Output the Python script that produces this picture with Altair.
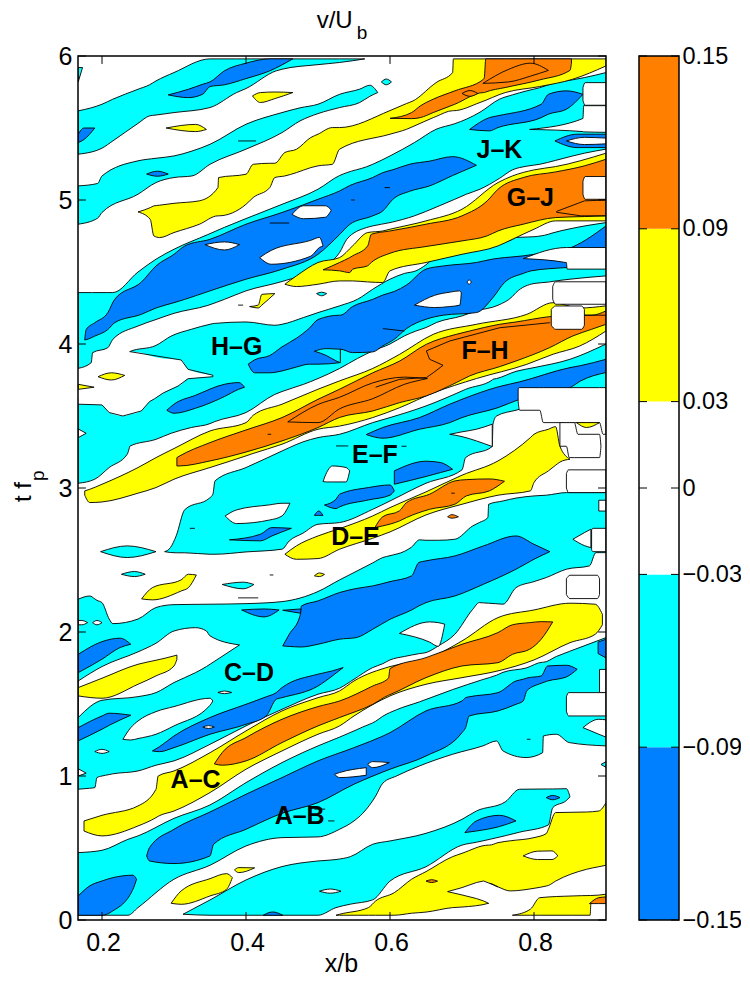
import altair as alt
import pandas as pd

BLUE, CYAN, WHITE, YELLOW, ORANGE = "#0080ff", "#00ffff", "#ffffff", "#ffff00", "#ff8000"

# ---- contour regions: (x/b, lower t fp, upper t fp) ----
cyan_a = ([.167,.2,.236,.25,.3,.35,.4,.45,.5,.53,.55,.562,.58,.59,.609,.641,.687,.729,.748,.757,.789,.812,.813,.831,.849,.9],
          [.033,.033,.033,.086,.283,.38,.514,.572,.577,.63,.688,.74,.86,.95,1.0,1.07,1.151,1.209,1.243,1.174,1.128,1.162,1.278,1.29,1.232,1.209],
          [.468,.484,.56,.584,.706,.799,.954,1.093,1.209,1.27,1.313,1.34,1.38,1.415,1.46,1.515,1.6,1.67,1.7,1.72,1.75,1.79,1.79,1.83,1.865,1.961])
cyan_b = ([.3125,.35,.4,.45,.5,.525,.545,.576,.6,.65,.7,.72,.76,.78,.82,.826,.845,.85],
          [.04,.033,.033,.033,.033,.086,.11,.14,.27,.37,.52,.54,.585,.61,.66,.78,.83,.855],
          [.04,.139,.278,.371,.41,.42,.44,.526,.549,.602,.699,.757,.82,.908,.91,.91,.912,.855])
cyan_c = ([.167,.183,.19,.193,.2,.21,.215,.25,.275,.3,.35,.4,.45,.5,.53,.55,.576,.59,.6,.62,.63,.641,.65,.667,.69,.715,.724,.736,.737,.757,.775,.8,.817,.845,.877,.886,.9],
          [.908,.915,.919,.989,1.0,1.01,1.015,1.035,1.075,1.105,1.22,1.348,1.463,1.568,1.61,1.672,1.753,1.78,1.806,1.83,1.84,1.85,1.857,1.903,1.984,2.158,2.204,2.2,2.2,2.193,2.308,2.35,2.378,2.436,2.459,2.551,2.551],
          [2.228,2.25,2.23,2.22,2.204,2.09,2.058,2.09,2.17,2.19,2.193,2.197,2.211,2.281,2.362,2.413,2.48,2.517,2.53,2.56,2.59,2.64,2.637,2.637,2.644,2.737,2.76,2.795,2.887,2.91,2.93,2.945,2.95,2.968,2.968,2.968,2.968])
cyan_d = ([.287,.295,.303,.315,.35,.354,.357,.4,.45,.46,.479,.5,.53,.576,.6,.65,.7,.705,.742,.743,.748,.775,.8,.85,.9],
          [2.558,2.552,2.55,2.55,2.54,2.54,2.54,2.556,2.575,2.632,2.686,2.748,2.76,2.852,2.91,3.033,3.126,3.211,3.288,3.443,3.5,3.54,3.57,3.57,3.57],
          [2.558,2.586,2.667,2.85,2.933,2.957,3.05,3.142,3.257,3.28,3.32,3.35,3.373,3.454,3.489,3.57,3.674,3.685,3.75,3.755,3.76,3.81,3.836,3.894,4.0])
cyan_e = ([.167,.19,.21,.235,.238,.2385,.275,.296,.324,.35,.356,.4,.44,.45,.48,.5,.53,.555,.576,.6,.62,.636,.65,.665,.7,.72,.75,.77,.775,.8,.82,.825,.85,.9],
          [3.033,3.061,3.142,3.234,3.28,3.29,3.338,3.38,3.42,3.447,3.46,3.524,3.65,3.67,3.72,3.76,3.83,3.9,3.952,4.0,4.056,4.09,4.114,4.15,4.195,4.23,4.269,4.33,4.357,4.42,4.43,4.434,4.45,4.473],
          [3.62,3.62,3.56,3.55,3.55,3.947,3.99,4.055,4.102,4.137,4.143,4.153,4.13,4.137,4.184,4.218,4.265,4.311,4.38,4.45,4.49,4.508,4.55,4.612,4.64,4.658,4.69,4.727,4.74,4.745,4.762,4.77,4.8,4.843])
cyan_f = ([.167,.185,.187,.208,.215,.25,.275,.3,.347,.37,.4,.45,.5,.53,.54,.567,.576,.6,.634,.664,.69,.706,.725,.752,.77,.79,.808,.83,.854,.87,.9],
          [3.831,3.87,3.94,3.974,4.032,4.125,4.17,4.213,4.268,4.31,4.369,4.434,4.524,4.635,4.727,4.808,4.82,4.843,4.89,4.95,5.005,5.04,5.075,5.15,5.209,5.235,5.248,5.275,5.306,5.325,5.353],
          [4.357,4.357,4.357,4.357,4.357,4.5,4.589,4.658,4.76,4.81,4.871,4.97,5.075,5.17,5.19,5.23,5.248,5.306,5.399,5.491,5.53,5.561,5.61,5.7,5.73,5.758,5.78,5.815,5.835,5.85,5.885])
cyan_g = ([.167,.194,.2,.25,.275,.3,.325,.35,.4,.45,.475,.5,.53,.558,.572,.583],
          [4.832,4.874,4.913,5.04,5.121,5.156,5.167,5.248,5.353,5.468,5.549,5.6,5.642,5.677,5.72,5.746],
          [5.098,5.115,5.167,5.272,5.29,5.306,5.34,5.387,5.526,5.607,5.64,5.665,5.734,5.77,5.797,5.746])
cyan_h = ([.167,.2,.215,.25,.266,.275,.3,.35,.387,.4,.442,.45,.5,.53,.565],
          [5.318,5.36,5.41,5.532,5.584,5.59,5.607,5.642,5.746,5.774,5.897,5.908,5.94,5.955,5.98],
          [5.619,5.665,5.7,5.769,5.8,5.827,5.885,5.98,5.98,5.98,5.98,5.98,5.98,5.98,5.98])
cyan_s1 = ([.198,.235,.275], [2.558,2.517,2.558], [2.558,2.598,2.558])
cyan_s2 = ([.227,.245,.26], [2.401,2.385,2.401], [2.401,2.42,2.401])
cyan_s3 = ([.367,.396,.411], [2.33,2.3,2.33], [2.33,2.346,2.33])
cyan_s4 = ([.498,.505,.512], [4.35,4.335,4.35], [4.35,4.36,4.35])
cyan_s5 = ([.588,.595,.602], [5.82,5.80,5.82], [5.82,5.84,5.82])
cyan_s6 = ([.893,.9], [1.08,1.06], [1.08,1.10])
cyan_s7 = ([.167,.173], [5.82,5.92], [5.92,5.92])
cyan_lobe = ([.495,.5116,.525,.531], [3.95,3.92,3.883,3.87], [3.95,3.968,3.965,3.964])

blue_ab = ([.262,.266,.3,.35,.355,.4,.45,.5,.55,.6,.65,.7,.705,.71,.75,.775,.785,.79,.81,.819,.845,.86],
           [.445,.41,.392,.445,.526,.63,.741,.815,.943,1.047,1.139,1.301,1.336,1.417,1.452,1.498,1.521,1.591,1.644,1.66,1.688,1.741],
           [.445,.503,.63,.75,.762,.873,.989,1.105,1.197,1.301,1.452,1.521,1.544,1.55,1.579,1.66,1.672,1.68,1.695,1.764,1.769,1.741])
blue_bl = ([.167,.183,.2,.215,.243,.248], [.033,.033,.033,.063,.213,.283], [.167,.237,.271,.294,.311,.283])
blue_cd = ([.27,.28,.3,.35,.4,.428,.442,.45,.5,.52,.535],
           [1.174,1.169,1.197,1.29,1.359,1.417,1.533,1.544,1.625,1.695,1.753],
           [1.174,1.204,1.278,1.406,1.498,1.55,1.579,1.614,1.707,1.73,1.753])
blue_lf = ([.167,.2,.21,.24], [1.244,1.325,1.352,1.422], [1.336,1.417,1.436,1.422])
blue_tl = ([.167,.2,.225,.24], [1.718,1.811,1.892,1.915], [1.845,1.933,1.957,1.915])
blue_mn = ([.451,.46,.475,.477,.5,.53,.553,.576,.6,.63,.64,.65,.69,.73,.775,.8,.822],
           [1.903,1.9,1.896,1.896,1.915,1.95,1.961,2.019,2.088,2.153,2.181,2.204,2.25,2.332,2.436,2.505,2.558],
           [1.903,1.984,2.112,2.181,2.216,2.274,2.302,2.32,2.35,2.39,2.482,2.494,2.528,2.598,2.667,2.609,2.558])
blue_m2 = ([.451,.476], [2.151,2.13], [2.151,2.16])
blue_s1 = ([.394,.425,.446], [2.153,2.105,2.153], [2.153,2.16,2.153])
blue_bt = ([.424,.437,.451], [.033,.033,.033], [.033,.056,.033])
blue_lo = ([.704,.72,.752,.775], [.607,.618,.649,.688], [.607,.688,.727,.688])
blue_dt = ([.817,.826,.836], [.85,.835,.85], [.85,.865,.85])
blue_rt = ([.889,.9], [1.85,1.82], [1.93,1.95])
blue_ef = ([.567,.59,.641,.683,.7,.75,.78,.85,.865,.9],
           [3.371,3.346,3.408,3.454,3.489,3.558,3.616,3.697,3.744,3.802],
           [3.371,3.42,3.489,3.582,3.616,3.702,3.737,3.836,3.85,3.894])
blue_e2 = ([.606,.65,.67,.687], [3.026,3.08,3.107,3.13], [3.119,3.186,3.177,3.13])
blue_e3 = ([.509,.525,.53,.57,.6,.606], [2.882,2.857,2.869,2.917,2.95,2.98], [2.882,2.922,2.957,3.003,3.021,2.98])
blue_e4 = ([.495,.501,.507], [2.81,2.81,2.81], [2.81,2.84,2.81])
blue_e5 = ([.377,.42,.436,.463], [2.64,2.633,2.667,2.72], [2.64,2.679,2.725,2.72])
blue_h1 = ([.29,.3,.33,.37,.39,.398], [3.54,3.519,3.554,3.635,3.686,3.7], [3.54,3.582,3.644,3.72,3.732,3.7])
blue_hg = ([.403,.412,.433,.45,.47,.488,.5,.53,.531,.548,.576,.59,.606,.623,.65,.674,.72,.743,.759,.785,.796,.845,.9],
           [3.86,3.80,3.80,3.813,3.84,3.86,3.86,3.87,3.964,3.94,3.945,3.987,4.033,4.107,4.172,4.2,4.218,4.322,4.427,4.49,4.508,4.531,4.55],
           [3.86,3.89,3.92,3.98,4.04,4.11,4.17,4.2,4.2,4.26,4.31,4.34,4.365,4.41,4.52,4.542,4.566,4.59,4.6,4.612,4.62,4.658,4.82])
blue_f = ([.176,.178,.19,.208,.2176,.2547,.275,.3,.315,.35,.4,.45,.5,.53,.544,.576,.59,.604,.627,.655,.687,.72],
          [4.028,4.03,4.055,4.1,4.148,4.206,4.25,4.287,4.31,4.369,4.45,4.519,4.623,4.76,4.83,4.89,4.924,5.005,5.06,5.098,5.17,5.241],
          [4.028,4.1,4.148,4.217,4.31,4.43,4.542,4.623,4.681,4.727,4.832,4.913,5.005,5.063,5.10,5.156,5.19,5.21,5.248,5.27,5.301,5.241])
blue_g1 = ([.262,.277,.292], [5.18,5.165,5.18], [5.18,5.2,5.18])
blue_h2 = ([.167,.175,.19], [5.399,5.42,5.5], [5.457,5.5,5.5])
blue_t = ([.292,.32,.34,.35,.37,.4,.433,.465],
          [5.73,5.711,5.735,5.788,5.80,5.843,5.897,5.98],
          [5.73,5.769,5.804,5.82,5.897,5.95,5.98,5.98])
blue_jk = ([.7105,.738,.75,.81,.82,.845,.868],
           [5.49,5.48,5.503,5.572,5.596,5.63,5.734],
           [5.49,5.572,5.585,5.665,5.734,5.758,5.734])
blue_rg = ([.829,.86,.9], [5.41,5.364,5.364], [5.41,5.457,5.457])

hole_lobe = ([.167,.2,.21,.229,.236,.2385,.2546,.266,.273,.285,.3056,.31,.3195,.354],
             [3.582,3.577,3.524,3.5,3.505,3.51,3.535,3.6,3.62,3.66,3.708,3.72,3.759,3.773],
             [3.8,3.8,3.8,3.8,3.947,3.947,3.94,3.92,3.91,3.9,3.892,3.889,3.824,3.783])
hole_w = ([.167,.2,.25,.275,.3,.33,.345,.35,.391],
          [1.406,1.526,1.551,1.579,1.649,1.718,1.76,1.776,1.91],
          [1.66,1.76,1.862,1.922,2.007,2.03,2.007,1.973,1.91])
hole_w1 = ([.229,.24,.25,.275,.3,.35,.354], [1.255,1.25,1.26,1.29,1.348,1.491,1.521], [1.255,1.336,1.382,1.447,1.482,1.54,1.521])
hole_w2 = ([.167,.178], [1.0,1.02], [1.05,1.02])
hole_w3 = ([.19,.2,.21], [1.17,1.157,1.17], [1.17,1.185,1.17])
hole_w4 = ([.34,.348,.356], [1.34,1.33,1.34], [1.34,1.35,1.34])
hole_w5 = ([.361,.37,.38], [1.58,1.572,1.58], [1.58,1.59,1.58])
hole_w6 = ([.502,.517,.532], [.2,.186,.2], [.2,.215,.2])
hole_a1 = ([.523,.53,.567], [1.012,.989,1.005], [1.012,1.024,1.058])
hole_a2 = ([.569,.576,.599], [1.081,1.058,1.093], [1.081,1.1,1.093])
hole_e1 = ([.371,.387,.433,.45,.461], [2.806,2.753,2.778,2.806,2.894], [2.806,2.848,2.883,2.894,2.894])
hole_e2 = ([.507,.512,.52,.539,.544], [3.045,3.042,3.042,3.042,3.119], [3.045,3.107,3.153,3.142,3.119])
hole_e3 = ([.683,.7,.72,.742], [3.373,3.357,3.327,3.288], [3.373,3.39,3.408,3.443])
hole_c1 = ([.613,.655,.667,.676], [1.99,1.93,1.90,2.054], [1.99,2.07,2.065,2.054])
hole_l1 = ([.167,.178], [3.35,3.38], [3.41,3.38])
hole_l2 = ([.167,.172,.18], [2.05,2.05,2.065], [2.08,2.08,2.065])
hole_l3 = ([.187,.193,.2], [2.065,2.05,2.065], [2.065,2.08,2.065])
hole_h1 = ([.419,.435,.49,.502,.507], [4.6,4.554,4.61,4.67,4.68], [4.6,4.65,4.72,4.74,4.68])
hole_h2 = ([.343,.37,.391], [4.69,4.653,4.69], [4.69,4.709,4.69])
hole_h3 = ([.464,.48,.51,.5185], [4.9,4.87,4.88,4.93], [4.9,4.96,4.96,4.93])
hole_h4 = ([.634,.662,.683,.697,.699], [4.27,4.253,4.26,4.27,4.355], [4.27,4.338,4.36,4.369,4.355])
hole_h5 = ([.707,.71,.713], [4.43,4.415,4.43], [4.43,4.445,4.43])
hole_r1 = ([.868,.89,.9], [1.336,1.29,1.27], [1.336,1.394,1.39])
hole_r2 = ([.891,.9], [1.58,1.58], [1.74,1.74])
hole_r3 = ([.89,.9], [2.84,2.84], [2.915,2.915])
hole_jk = ([.845,.87,.9], [5.41,5.385,5.39], [5.41,5.435,5.43])

yellow_ac = ([.175,.2,.25,.275,.278,.3,.35,.4,.45,.5,.53,.55,.6,.65,.7,.75,.8,.85,.885,.895],
             [.618,.584,.653,.711,.72,.757,.885,1.047,1.174,1.29,1.348,1.417,1.556,1.637,1.683,1.73,1.806,1.926,1.984,2.05],
             [.688,.727,.792,.908,1.0,1.035,1.162,1.313,1.452,1.544,1.591,1.66,1.76,1.811,1.938,2.1,2.153,2.2,2.193,2.123])
yellow_bt = ([.525,.53,.57,.58,.606,.63,.65,.687,.7,.737,.738,.75,.767,.8,.817,.82,.83,.873,.89,.9],
             [.033,.033,.033,.033,.033,.047,.055,.086,.09,.116,.255,.23,.202,.22,.236,.24,.27,.352,.37,.38],
             [.033,.04,.086,.132,.19,.283,.336,.44,.463,.52,.52,.537,.55,.572,.6,.63,.746,.75,.757,.815])
hole_bt = ([.68,.7,.72,.73,.736,.742], [.197,.174,.149,.132,.118,.118], [.197,.225,.26,.271,.262,.235])
hole_y1 = ([.785,.805,.825,.833], [.445,.42,.42,.445], [.445,.478,.48,.445])
yellow_r = ([.77,.795,.808,.854,.878,.879,.9], [.033,.033,.033,.033,.033,.114,.144], [.033,.075,.155,.167,.17,.17,.179])
yellow_l = ([.296,.31,.35,.373,.381], [.116,.109,.167,.213,.294], [.116,.202,.287,.322,.294])
yellow_l2 = ([.384,.39,.412], [.348,.329,.362], [.348,.364,.362])
yellow_w = ([.167,.2,.25,.275,.3,.304], [1.556,1.54,1.637,1.695,1.764,1.81], [1.614,1.679,1.776,1.804,1.834,1.84])
yellow_de = ([.454,.47,.5,.53,.576,.6,.65,.7,.75,.795,.8,.82,.83,.836,.85],
             [2.54,2.505,2.51,2.575,2.651,2.695,2.813,2.887,2.95,2.98,3.038,3.119,3.158,3.18,3.2],
             [2.54,2.598,2.667,2.718,2.806,2.864,2.973,3.089,3.188,3.35,3.373,3.408,3.426,3.29,3.2])
yellow_m = ([.255,.27,.31,.32,.331], [2.23,2.223,2.285,2.308,2.396], [2.23,2.308,2.362,2.401,2.396])
yellow_s = ([.495,.502,.509], [2.39,2.385,2.4], [2.39,2.41,2.4])
yellow_fh = ([.176,.183,.2,.25,.275,.3,.35,.4,.41,.45,.5,.53,.576,.6135,.66,.72,.79,.8265,.8635,.9],
             [2.95,2.899,2.903,2.964,3.003,3.061,3.142,3.223,3.24,3.304,3.408,3.43,3.489,3.558,3.66,3.76,3.859,3.929,3.986,4.09],
             [2.98,2.991,3.026,3.142,3.211,3.274,3.396,3.454,3.505,3.582,3.686,3.744,3.83,3.929,4.067,4.137,4.206,4.287,4.25,4.265])
yellow_l3 = ([.1945,.213,.2315], [3.773,3.75,3.782], [3.773,3.8,3.782])
yellow_l4 = ([.167,.189], [3.685,3.70], [3.72,3.70])
yellow_m2 = ([.405,.417,.422,.44], [4.26,4.25,4.27,4.35], [4.26,4.27,4.345,4.35])
yellow_gj = ([.454,.47,.5,.53,.548,.569,.59,.6,.65,.7,.75,.77,.8,.83,.9],
             [4.415,4.399,4.415,4.438,4.438,4.431,4.427,4.508,4.566,4.623,4.681,4.727,4.797,4.855,4.855],
             [4.415,4.473,4.566,4.6,4.681,4.774,4.785,4.797,4.855,4.936,5.121,5.167,5.209,5.232,5.325])
yellow_top = ([.25,.267,.272,.28,.3,.335,.361,.362,.4,.41,.433,.44,.454,.47,.49,.5,.52,.53,.6,.623,.632,.66,.664,.687,.688,.725,.76,.808,.854,.9],
              [4.917,4.866,4.751,4.739,4.774,4.831,4.89,4.89,4.97,5.017,5.086,5.156,5.167,5.19,5.225,5.237,5.248,5.353,5.457,5.491,5.51,5.572,5.58,5.62,5.62,5.677,5.746,5.788,5.839,5.931],
              [4.917,4.947,4.959,4.964,4.977,4.994,5.086,5.156,5.179,5.248,5.255,5.255,5.33,5.352,5.434,5.457,5.503,5.503,5.621,5.67,5.688,5.8,5.815,5.885,5.98,5.98,5.98,5.98,5.98,5.98])
yellow_t1 = ([.289,.33,.345], [5.5,5.475,5.49], [5.5,5.525,5.49])
yellow_t2 = ([.409,.42,.44,.465], [5.723,5.677,5.704,5.746], [5.723,5.746,5.75,5.746])
yellow_g1 = ([.831,.84,.85], [5.005,4.99,5.005], [5.005,5.02,5.005])
yellow_q = ([.859,.873,.891], [3.454,3.42,3.454], [3.454,3.454,3.454])

orange_ac = ([.356,.367,.4,.45,.5,.53,.576,.598,.6,.65,.7,.75,.77,.794,.81,.826],
             [1.084,1.075,1.105,1.232,1.348,1.406,1.498,1.561,1.565,1.683,1.764,1.787,1.845,1.88,1.95,2.07],
             [1.084,1.163,1.267,1.394,1.482,1.521,1.625,1.68,1.746,1.822,1.915,1.996,2.05,2.065,2.072,2.07])
orange_de = ([.579,.59,.613,.623,.655,.69,.706,.738,.759],
             [2.725,2.737,2.771,2.795,2.852,2.887,2.945,2.98,3.047],
             [2.725,2.801,2.841,2.899,2.957,3.049,3.058,3.063,3.047])
orange_fh = ([.304,.307,.35,.4,.45,.5,.53,.576,.6135,.6505,.692,.7105,.7525,.775,.8218,.854,.88,.9],
             [3.153,3.153,3.188,3.25,3.327,3.42,3.49,3.535,3.593,3.64,3.732,3.778,3.843,3.882,3.975,4.056,4.102,4.137],
             [3.211,3.22,3.315,3.403,3.489,3.616,3.686,3.80,3.882,3.998,4.067,4.09,4.137,4.153,4.19,4.2,4.2,4.23])
orange_in = ([.458,.5,.53,.576,.62,.652], [3.459,3.454,3.55,3.62,3.72,3.76], [3.459,3.58,3.63,3.73,3.77,3.76])
orange_gj = ([.507,.53,.544,.548,.569,.574,.6,.65,.7,.735,.75,.785,.83,.87,.9],
             [4.515,4.508,4.496,4.519,4.543,4.566,4.63,4.677,4.716,4.751,4.785,4.832,4.878,4.885,4.89],
             [4.515,4.566,4.6,4.612,4.681,4.762,4.785,4.832,4.89,4.994,5.075,5.156,5.195,5.237,5.283])
orange_top = ([.6,.63,.642,.66,.69,.73,.731,.733,.76,.808,.85,.852],
              [5.567,5.565,5.572,5.607,5.665,5.746,5.746,5.75,5.781,5.834,5.9,5.95],
              [5.567,5.607,5.653,5.7,5.758,5.839,5.85,5.98,5.98,5.98,5.98,5.98])
orange_in2 = ([.729,.765,.795,.82], [5.81,5.82,5.86,5.9], [5.81,5.908,5.95,5.9])
orange_dot = ([.7,.711,.722], [5.74,5.72,5.74], [5.74,5.76,5.74])
orange_s1 = ([.65,.658,.666], [.27,.26,.27], [.27,.28,.27])
orange_s2 = ([.877,.89,.9], [.114,.114,.114], [.114,.155,.16])
orange_s3 = ([.68,.686,.695], [2.8,2.79,2.8], [2.8,2.815,2.8])

rect_1 = ([.778,.78,.808,.813,.891,.896,.9], [3.6,3.54,3.54,3.454,3.454,3.373,3.373], [3.69,3.697,3.697,3.697,3.697,3.697,3.697])
rect_2 = ([.836,.845,.849,.856,.861,.891,.893], [3.29,3.29,3.211,3.211,3.211,3.211,3.29], [3.454,3.454,3.454,3.454,3.373,3.373,3.29])
rect_3 = ([.845,.848,.9], [3.0,2.968,2.968], [3.1,3.126,3.126])
rect_4 = ([.88,.882,.9], [2.57,2.558,2.558], [2.71,2.72,2.72])
rect_4b = ([.854,.87,.879], [2.644,2.60,2.586], [2.644,2.69,2.714])
rect_5 = ([.845,.85,.888,.891], [2.26,2.232,2.232,2.26], [2.37,2.394,2.394,2.37])
rect_6 = ([.845,.848,.9], [1.45,1.417,1.417], [1.55,1.579,1.579])
rect_7 = ([.826,.83,.9], [4.31,4.276,4.276], [4.4,4.432,4.432])
rect_8 = ([.824,.83,.866,.87], [4.13,4.102,4.102,4.13], [4.24,4.264,4.264,4.24])
rect_9 = ([.868,.871,.9], [5.04,5.005,5.005], [5.13,5.163,5.163])
rect_10 = ([.868,.871,.9], [5.69,5.658,5.658], [5.78,5.815,5.815])
rect_11 = ([.794,.868,.869,.9], [5.49,5.475,5.473,5.47], [5.49,5.566,5.655,5.655])
rect_12 = ([.785,.845,.846,.9], [4.593,4.565,4.52,4.52], [4.593,4.67,4.67,4.67])

# ---- painting order: (fill, stroked, region) ----
DRAW = [(CYAN, 1, r) for r in (cyan_a, cyan_b, cyan_c, cyan_d, cyan_e, cyan_f, cyan_g, cyan_h,
                               cyan_s1, cyan_s2, cyan_s3, cyan_s4, cyan_s5, cyan_s6, cyan_s7)]
DRAW += [(BLUE, 1, r) for r in (blue_ab, blue_bl, blue_cd, blue_lf, blue_tl, blue_mn, blue_m2, blue_s1, blue_bt,
                                blue_lo, blue_dt, blue_rt, blue_ef, blue_e2, blue_e3, blue_e4, blue_e5, blue_h1,
                                blue_hg, blue_f, blue_g1, blue_h2, blue_t, blue_jk, blue_rg)]
DRAW += [(CYAN, 1, cyan_lobe)]
DRAW += [(WHITE, 0, hole_lobe)]
DRAW += [(WHITE, 1, r) for r in (hole_w, hole_w1, hole_w2, hole_w3, hole_w4, hole_w5, hole_w6, hole_a1, hole_a2,
                                 hole_e1, hole_e2, hole_e3, hole_c1, hole_l1, hole_l2, hole_l3, hole_h1, hole_h2,
                                 hole_h3, hole_h4, hole_h5, hole_r1, hole_r2, hole_r3, hole_jk)]
DRAW += [(YELLOW, 1, r) for r in (yellow_ac, yellow_bt)]
DRAW += [(WHITE, 0, hole_bt), (WHITE, 1, hole_y1)]
DRAW += [(YELLOW, 1, r) for r in (yellow_r, yellow_l, yellow_l2, yellow_w, yellow_de, yellow_m, yellow_s, yellow_fh,
                                  yellow_l3, yellow_l4, yellow_m2, yellow_gj, yellow_top, yellow_t1, yellow_t2, yellow_g1)]
DRAW += [(ORANGE, 1, r) for r in (orange_ac, orange_de, orange_fh, orange_in, orange_gj, orange_top, orange_in2,
                                  orange_dot, orange_s1, orange_s2, orange_s3)]
DRAW += [(WHITE, 1, r) for r in (rect_1, rect_2, rect_3, rect_4, rect_4b, rect_5, rect_6, rect_7, rect_8, rect_9,
                                 rect_10, rect_11, rect_12)]
DRAW += [(YELLOW, 1, yellow_q)]

# ---- thin contour lines: (x/b list, t fp list) ----
LINES = [
    ([.167,.2,.21,.229,.2546,.266,.273,.285,.3056,.3195,.354,.354,.3195,.31,.2385],
     [3.582,3.577,3.524,3.5,3.535,3.6,3.62,3.66,3.708,3.759,3.773,3.783,3.824,3.889,3.947]),
    ([.6505,.683,.7525,.822], [3.952,4.021,4.113,4.148]),
    ([.6505,.655,.6737,.66,.6505,.6135,.58], [3.952,3.894,3.852,3.80,3.767,3.755,3.70]),
    ([.87,.9], [4.2,4.2]),
    ([.831,.87,.9], [4.92,4.994,5.0]),
    ([.831,.865,.9], [4.915,4.89,4.89]),
    ([.59,.62], [4.107,4.09]),
    ([.75,.738,.73,.72,.7,.68,.7,.72,.73,.737], [.23,.255,.271,.26,.225,.197,.174,.149,.132,.116]),
    ([.433,.46], [4.84,4.84]), ([.389,.414], [5.41,5.41]), ([.5925,.6], [5.086,5.086]), ([.546,.551], [5.0,5.0]),
    ([.389,.417], [2.237,2.237]), ([.525,.542], [3.292,3.292]), ([.616,.623], [3.29,3.29]), ([.514,.523], [.688,.688]),
    ([.495,.51], [.77,.77]), ([.685,.69], [2.964,2.964]), ([.43,.435], [3.373,3.373]), ([.322,.329], [2.72,2.72]),
    ([.433,.438], [2.396,2.396]), ([.389,.396], [4.27,4.27]), ([.79,.795], [1.255,1.255]),
]
LABELS = ["H–G", "F–H", "E–F", "D–E", "C–D", "A–C", "A–B", "J–K", "G–J"]
LABEL_X = [.387, .732, .579, .552, .4042, .33, .4745, .752, .795]
LABEL_T = [3.977, 3.952, 3.23, 2.663, 1.718, .973, .725, 5.348, 5.013]
X_TICKS = [.2, .4, .6, .8]
T_TICKS = [0, 1, 2, 3, 4, 5, 6]
BAR_TICKS = [-.15, -.09, -.03, 0, .03, .09, .15]
BAR_EDGES = [-.15, -.09, -.03, .03, .09, .15]
BAR_COLORS = [BLUE, CYAN, WHITE, YELLOW, ORANGE]

X_MIN, X_MAX = 1/6, .9
FONT = "Liberation Sans"
W, H = 528, 864

rows = []
for i, (fill, sw, (xs, los, his)) in enumerate(DRAW):
    for x, lo, hi in zip(xs, los, his):
        rows.append(dict(id=f"{i:03d}", fill=fill, sw=sw * 0.9, x=x, lo=lo, hi=hi))
areas = pd.DataFrame(rows)

lrows = []
for i, (xs, ts) in enumerate(LINES):
    for k, (x, t) in enumerate(zip(xs, ts)):
        lrows.append(dict(id=f"{i:03d}", k=k, x=x, t=t))
lines = pd.DataFrame(lrows)

tick_rows = []
n = 0
for v in X_TICKS:
    tick_rows += [dict(id=f"t{n}", k=0, x=v, t=0), dict(id=f"t{n}", k=1, x=v, t=.055)]; n += 1
    tick_rows += [dict(id=f"t{n}", k=0, x=v, t=6), dict(id=f"t{n}", k=1, x=v, t=5.945)]; n += 1
for v in T_TICKS:
    tick_rows += [dict(id=f"t{n}", k=0, x=X_MIN, t=v), dict(id=f"t{n}", k=1, x=X_MIN + .011, t=v)]; n += 1
    tick_rows += [dict(id=f"t{n}", k=0, x=X_MAX, t=v), dict(id=f"t{n}", k=1, x=X_MAX - .011, t=v)]; n += 1
ticks = pd.DataFrame(tick_rows)

xs_ = alt.Scale(domain=[X_MIN, X_MAX], nice=False, zero=False)
ys_ = alt.Scale(domain=[0, 6], nice=False, zero=False)
xax = alt.Axis(values=X_TICKS, format=".1f", title=None, ticks=False, domain=False, grid=False,
               labelFont=FONT, labelFontSize=25, labelColor="black", labelPadding=10, labelOffset=1)
yax = alt.Axis(values=T_TICKS, format="d", title=None, ticks=False, domain=False, grid=False,
               labelFont=FONT, labelFontSize=25, labelColor="black", labelPadding=6)

area_layer = alt.Chart(areas).mark_area(stroke="black", orient="vertical", clip=True, interpolate="monotone").encode(
    x=alt.X("x:Q", scale=xs_, axis=xax),
    y=alt.Y("lo:Q", scale=ys_, axis=yax),
    y2="hi:Q",
    fill=alt.Fill("fill:N", scale=None),
    strokeWidth=alt.StrokeWidth("sw:Q", scale=None),
    detail="id:N",
)
line_layer = alt.Chart(lines).mark_line(color="black", strokeWidth=0.9).encode(
    x=alt.X("x:Q", scale=xs_), y=alt.Y("t:Q", scale=ys_), detail="id:N", order="k:Q")
tick_layer = alt.Chart(ticks).mark_line(color="black", strokeWidth=1).encode(
    x=alt.X("x:Q", scale=xs_), y=alt.Y("t:Q", scale=ys_), detail="id:N", order="k:Q")
label_layer = alt.Chart(pd.DataFrame(dict(x=LABEL_X, t=LABEL_T, s=LABELS))).mark_text(
    font=FONT, fontSize=25, fontWeight="bold", color="black").encode(
    x=alt.X("x:Q", scale=xs_), y=alt.Y("t:Q", scale=ys_), text="s:N")

one = pd.DataFrame(dict(a=[0]))
def txt(s, px, py, size=24, angle=0):
    return alt.Chart(one).mark_text(font=FONT, fontSize=size, angle=angle, align="left", baseline="alphabetic",
                                    color="black").encode(
        x=alt.value(px), y=alt.value(py), text=alt.value(s))
frame = alt.Chart(one).mark_rect(fill="transparent", stroke="black", strokeWidth=1.5).encode(
    x=alt.value(0), x2=alt.value(W), y=alt.value(0), y2=alt.value(H))

main = alt.layer(area_layer, line_layer, tick_layer, label_layer, frame,
                 txt("x/b", 246.7, 916, 25), txt("v/U", 238.7, -27.7), txt("b", 278.7, -17, 19),
                 txt("t f", -47.3, 446, 24, angle=270), txt("p", -34, 425, 19, angle=270),
                 ).properties(width=W, height=H)

bar = pd.DataFrame(dict(lo=BAR_EDGES[:-1], hi=BAR_EDGES[1:], c=BAR_COLORS))
bs = alt.Scale(domain=[-.15, .15], nice=False, zero=False)
bax = alt.Axis(values=BAR_TICKS, orient="right", title=None, ticks=False, domain=False, grid=False,
               labelFont=FONT, labelFontSize=23.5, labelColor="black", labelPadding=3,
               labelExpr="datum.value == 0 ? '0' : replace(format(datum.value, '.2f'), '-', '–')")
bar_rect = alt.Chart(bar).mark_rect().encode(
    x=alt.value(0), x2=alt.value(40),
    y=alt.Y("lo:Q", scale=bs, axis=bax), y2="hi:Q", fill=alt.Fill("c:N", scale=None))
bt = pd.DataFrame(dict(v=BAR_TICKS))
bar_t1 = alt.Chart(bt).mark_rule(color="black", strokeWidth=1).encode(
    x=alt.value(0), x2=alt.value(8), y=alt.Y("v:Q", scale=bs))
bar_t2 = alt.Chart(bt).mark_rule(color="black", strokeWidth=1).encode(
    x=alt.value(32), x2=alt.value(40), y=alt.Y("v:Q", scale=bs))
bar_frame = alt.Chart(one).mark_rect(fill="transparent", stroke="black", strokeWidth=1.5).encode(
    x=alt.value(0), x2=alt.value(40), y=alt.value(0), y2=alt.value(H))
barc = alt.layer(bar_rect, bar_t1, bar_t2, bar_frame).properties(width=40, height=H)

chart = alt.hconcat(main, barc, spacing=30, padding=dict(left=3, top=1, right=-1, bottom=0)).configure_view(stroke=None)
chart.save("out.html", embed_options={"renderer": "svg", "actions": False})
